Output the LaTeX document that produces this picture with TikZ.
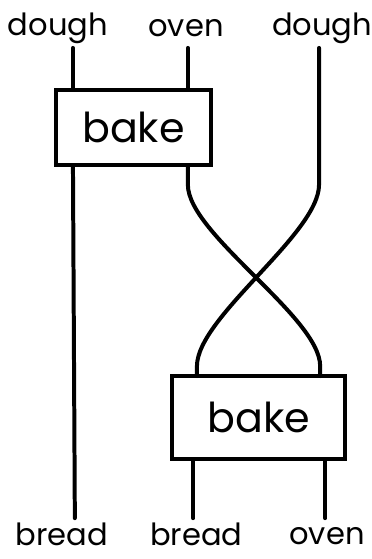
\documentclass[tikz,border=0pt]{standalone}
\usepackage{fontspec}
\setmainfont{Poppins}
\usepackage{tikz}
\usetikzlibrary{positioning, calc}
\tikzset{
  wire/.style={line width=3pt, line cap=round, color=black},
  procbox/.style={rectangle, draw=black, line width=3pt, fill=white,
    inner sep=0pt, font=\fontsize{31}{33}\selectfont},
  lbl/.style={inner sep=0pt, font=\fontsize{23}{25}\selectfont}
}
\begin{document}
\begin{tikzpicture}
  \useasboundingbox (0,0) rectangle (9.815,14.788);

  % Process boxes
  \node[procbox, minimum width=4.1cm, minimum height=1.99cm] (bakeA) at (3.53,11.415) {bake};
  \node[procbox, minimum width=4.58cm, minimum height=2.19cm] (bakeB) at (6.84,3.745) {bake};

  % Input and output labels
  \node[lbl] (inDoughA) at (1.53,14.05) {dough};
  \node[lbl] (inOven) at (4.92,14.05) {oven};
  \node[lbl] (inDoughB) at (8.52,14.05) {dough};
  \node[lbl] (outBreadA) at (1.64,0.64) {bread};
  \node[lbl] (outBreadB) at (5.19,0.64) {bread};
  \node[lbl] (outOven) at (8.65,0.60) {oven};

  % Wire ends
  \coordinate (topA) at (1.93,13.52);
  \coordinate (topB) at (4.97,13.52);
  \coordinate (topC) at (8.44,13.52);
  \coordinate (botA) at (1.98,1.08);
  \coordinate (botB) at (5.11,1.08);
  \coordinate (botC) at (8.60,1.08);

  % Wires into and out of the first bake
  \draw[wire] (topA) -- (topA |- bakeA.north);
  \draw[wire] (topB) -- (topB |- bakeA.north);
  \draw[wire] (topA |- bakeA.south) -- (botA);

  % Crossing wires
  \draw[wire] (topB |- bakeA.south) -- (4.97,9.9)
    .. controls (4.97,8.6) and (8.47,6.4) .. (8.47,5.1) -- (8.47,4.84);
  \draw[wire] (topC) -- (8.44,9.9)
    .. controls (8.44,8.6) and (5.21,6.4) .. (5.21,5.1) -- (5.21,4.84);

  % Wires out of the second bake
  \draw[wire] (botB |- bakeB.south) -- (botB);
  \draw[wire] (botC |- bakeB.south) -- (botC);
\end{tikzpicture}
\end{document}
